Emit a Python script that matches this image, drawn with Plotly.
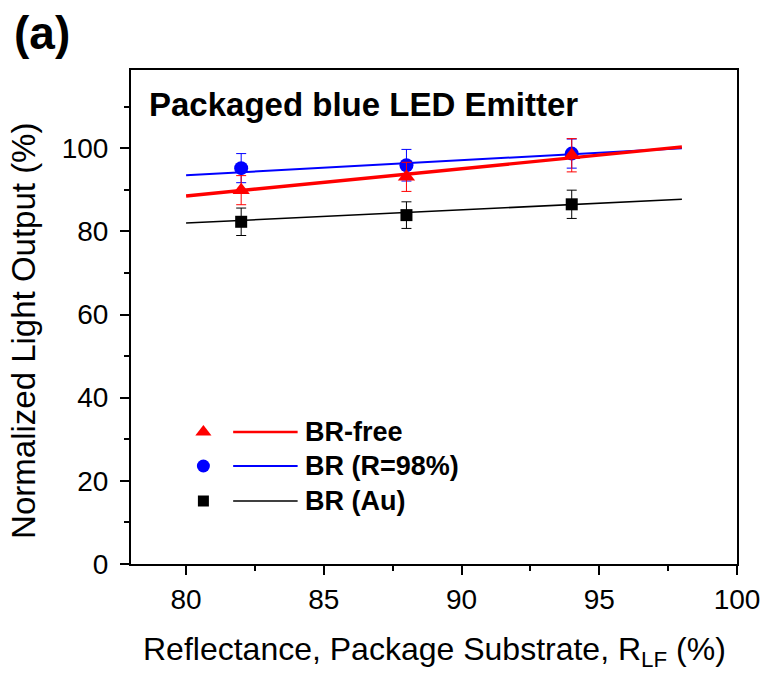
import plotly.graph_objects as go

# Measured light output at three package-substrate reflectances
reflectance = [82, 88, 94]

br_free = [89.9, 93.1, 98.3]
br_free_err = [3.5, 3.5, 4.0]

br_98 = [95.2, 95.9, 98.7]
br_98_err = [3.5, 3.8, 3.5]

br_au = [82.3, 83.9, 86.5]
br_au_err = [3.3, 3.2, 3.4]

# Linear fit lines (endpoints)
fit_x = [80, 98]
fit_br_free = [88.5, 100.3]
fit_br_98 = [93.5, 100.0]
fit_br_au = [82.0, 87.7]

series_names = ["BR-free", "BR (R=98%)", "BR (Au)"]

FONT = "Arial, Liberation Sans, sans-serif"

fig = go.Figure()

styles = [
    (br_free, br_free_err, fit_br_free, "red", "triangle-up", 15, 3.4),
    (br_98, br_98_err, fit_br_98, "blue", "circle", 14, 2.0),
    (br_au, br_au_err, fit_br_au, "black", "square", 12, 1.6),
]

# draw in order so red sits on top
for vals, err, fit, color, symbol, size, lw in reversed(styles):
    fig.add_trace(go.Scatter(
        x=fit_x, y=fit, mode="lines",
        line=dict(color=color, width=lw), showlegend=False, hoverinfo="skip"))
    fig.add_trace(go.Scatter(
        x=reflectance, y=vals, mode="markers",
        marker=dict(symbol=symbol, size=size, color=color),
        error_y=dict(type="data", array=err, visible=True, color=color,
                     thickness=1, width=5),
        showlegend=False))

# Hand-placed legend: marker, line sample, bold label
L, R, T, B = 131, 742, 70, 564
W, H = 772, 677
def px(x):
    return (x - L) / (R - L)
def py(y):
    return (B - y) / (B - T)

legend_rows = [432, 466, 501]
shapes = []
annotations = []
for (vals, err, fit, color, symbol, size, lw), name, ry in zip(styles, series_names, legend_rows):
    fig.add_trace(go.Scatter(
        x=[px(204)], y=[py(ry)], xaxis="x2", yaxis="y2", mode="markers",
        marker=dict(symbol=symbol, size=size - 1, color=color),
        showlegend=False, hoverinfo="skip"))
    shapes.append(dict(type="line", xref="paper", yref="paper",
                       x0=px(234), x1=px(299), y0=py(ry), y1=py(ry),
                       line=dict(color=color, width=lw if lw < 3 else 2.6)))
    annotations.append(dict(text=f"<b>{name}</b>", xref="paper", yref="paper",
                            x=px(304), y=py(ry), xanchor="left", yanchor="middle",
                            showarrow=False, font=dict(size=27, color="black", family=FONT)))

annotations.append(dict(text="<b>Packaged blue LED Emitter</b>", xref="paper", yref="paper",
                        x=px(147), y=py(104), xanchor="left", yanchor="middle",
                        showarrow=False, font=dict(size=33, color="black", family=FONT)))
annotations.append(dict(text="<b>(a)</b>", xref="paper", yref="paper",
                        x=px(11), y=py(33), xanchor="left", yanchor="middle",
                        showarrow=False, font=dict(size=46, color="black", family=FONT)))
# axis titles
annotations.append(dict(text="Reflectance, Package Substrate, R<sub>LF</sub> (%)",
                        xref="paper", yref="paper", x=px(437), y=py(651),
                        xanchor="center", yanchor="middle", showarrow=False,
                        font=dict(size=32, color="black", family=FONT)))
annotations.append(dict(text="Normalized Light Output (%)", textangle=-90,
                        xref="paper", yref="paper", x=px(23), y=py(331),
                        xanchor="center", yanchor="middle", showarrow=False,
                        font=dict(size=33, color="black", family=FONT)))

fig.update_layout(
    width=W, height=H,
    margin=dict(l=L, r=W - R, t=T, b=H - B),
    paper_bgcolor="white", plot_bgcolor="white",
    font=dict(family=FONT, color="black"),
    shapes=shapes, annotations=annotations,
    xaxis=dict(
        range=[78, 100], dtick=5, tick0=80,
        ticks="outside", ticklen=9, tickwidth=2, tickcolor="black",
        minor=dict(dtick=2.5, tick0=80, ticks="outside", ticklen=5, tickwidth=2, tickcolor="black"),
        showline=True, linewidth=2, linecolor="black", mirror=True,
        showgrid=False, zeroline=False,
        tickfont=dict(size=28, family=FONT),
    ),
    yaxis=dict(
        range=[0, 118.8], dtick=20, tick0=0,
        ticks="outside", ticklen=9, tickwidth=2, tickcolor="black",
        minor=dict(dtick=10, tick0=0, ticks="outside", ticklen=5, tickwidth=2, tickcolor="black"),
        showline=True, linewidth=2, linecolor="black", mirror=True,
        showgrid=False, zeroline=False,
        tickfont=dict(size=28, family=FONT),
        ticklabelstandoff=6,
    ),
    xaxis2=dict(range=[0, 1], overlaying="x", visible=False),
    yaxis2=dict(range=[0, 1], overlaying="y", visible=False),
)

fig.write_html("out.html")
